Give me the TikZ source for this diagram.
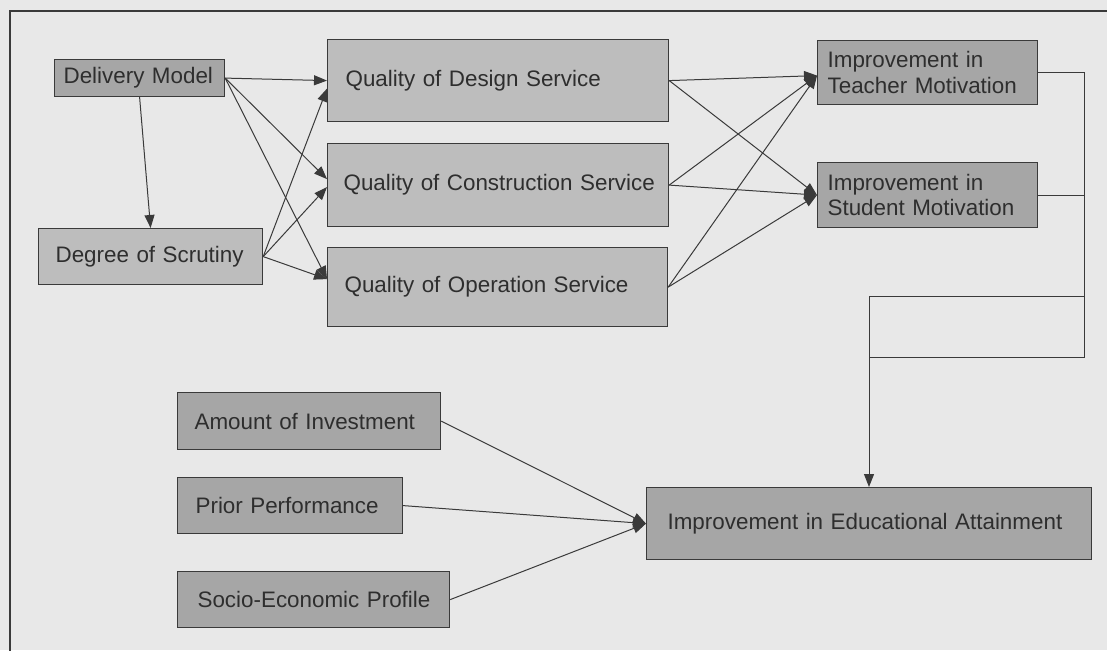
\documentclass[tikz,border=0pt]{standalone}
\usepackage{fontspec}
\setmainfont{Liberation Sans}
\usetikzlibrary{arrows.meta,calc}
\definecolor{cbg}{HTML}{E8E8E8}
\definecolor{cdark}{HTML}{A6A6A6}
\definecolor{clight}{HTML}{BDBDBD}
\definecolor{cline}{HTML}{3A3A3A}
\definecolor{ctext}{HTML}{2E2E2E}
\begin{document}
\begin{tikzpicture}[x=1pt,y=-1pt,
  box/.style={draw=cline, line width=1.2pt, anchor=north west, inner ysep=0pt, align=left,
              text=ctext, font=\fontsize{22.4}{25.5}\selectfont},
  arr/.style={draw=cline, line width=1pt, -{Triangle[length=13pt,width=10pt]}},
  wire/.style={draw=cline, line width=1pt}]
\fill[cbg] (0,0) rectangle (1107,650);
\useasboundingbox (0,0) rectangle (1107,650);
\draw[line width=1.5pt, cline] (10,652) -- (10,11) -- (1109,11);

\node[box, fill=cdark, inner xsep=9pt, text width=152pt, minimum height=37pt] (dm) at (54,59) {\mbox{Delivery Model}};
\node[box, fill=clight, inner xsep=17pt, text width=190pt, minimum height=56pt] (ds) at (38,228) {\mbox{Degree of Scrutiny}};
\node[box, fill=clight, inner xsep=18pt, text width=305pt, minimum height=82pt] (qd) at (327,39) {\mbox{Quality of Design Service}};
\node[box, fill=clight, inner xsep=16pt, text width=309pt, minimum height=83pt] (qc) at (327,143) {\mbox{Quality of Construction Service}};
\node[box, fill=clight, inner xsep=17pt, text width=306pt, minimum height=79pt] (qo) at (327,247) {\mbox{Quality of Operation Service}};
\node[box, fill=cdark, inner xsep=10pt, text width=200pt, minimum height=64pt] (tm) at (817,40) {Improvement in\\Teacher Motivation};
\node[box, fill=cdark, inner xsep=10pt, text width=200pt, minimum height=65pt] (sm) at (817,162) {Improvement in\\Student Motivation};
\node[box, fill=cdark, inner xsep=17pt, text width=229pt, minimum height=57pt] (ai) at (177,392) {\mbox{Amount of Investment}};
\node[box, fill=cdark, inner xsep=18pt, text width=189pt, minimum height=56pt] (pp) at (177,477) {\mbox{Prior Performance}};
\node[box, fill=cdark, inner xsep=20pt, text width=232pt, minimum height=56pt] (se) at (177,571) {\mbox{Socio-Economic Profile}};
\node[box, fill=cdark, inner xsep=21pt, text width=403pt, minimum height=72pt] (ea) at (646,487) {\mbox{Improvement in Educational Attainment}};

% left side
\draw[arr] (dm.south) -- (ds.north);
\draw[arr] (dm.east) -- (qd.west);
\draw[arr] (dm.east) -- ($(qc.west)+(0,-6)$);
\draw[arr] (dm.east) -- ($(qo.west)+(0,-8)$);
\draw[arr] (ds.east) -- ($(qd.west)+(0,8)$);
\draw[arr] (ds.east) -- ($(qc.west)+(0,2)$);
\draw[arr] (ds.east) -- ($(qo.west)+(0,-8)$);

% middle
\foreach \q in {qd,qc,qo}{
  \draw[arr] (\q.east) -- ($(tm.west)+(0,3)$);
  \draw[arr] (\q.east) -- (sm.west);
}

% right connector
\coordinate (rb) at (1084,357);
\coordinate (rt) at (1084,296);
\coordinate (lb) at (869,357);
\coordinate (lt) at (869,296);
\draw[wire] (tm.east) -- (tm.east -| rb) -- (rb) -- (lb) -- (lt) -- (rt);
\draw[wire] (sm.east) -- (sm.east -| rb);
\draw[arr] (lt) -- (lt |- ea.north);

% bottom
\draw[arr] (ai.east) -- (ea.west);
\draw[arr] (pp.east) -- (ea.west);
\draw[arr] (se.east) -- (ea.west);
\end{tikzpicture}
\end{document}
